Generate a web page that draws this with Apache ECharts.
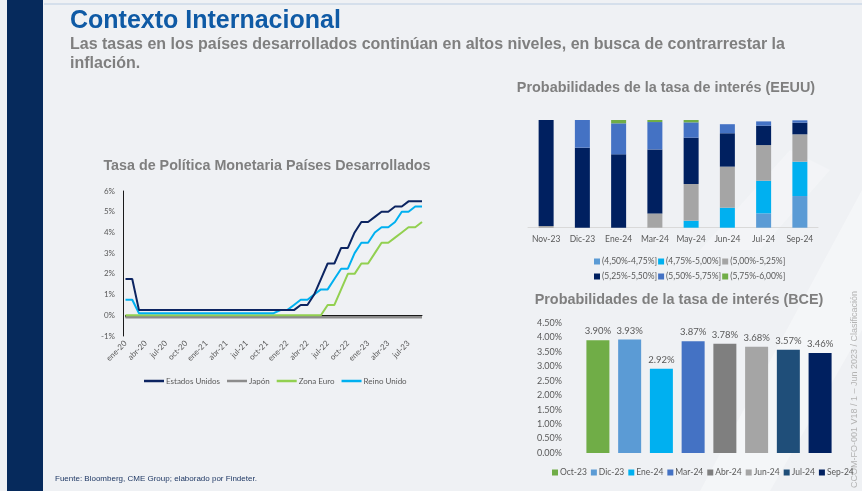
<!DOCTYPE html>
<html><head><meta charset="utf-8">
<script src="https://cdn.jsdelivr.net/npm/echarts@6/dist/echarts.min.js"></script>
<style>html,body{margin:0;padding:0;background:#eff1f4;}#c{width:862px;height:491px;}</style>
</head><body><div id="c"></div>
<script>
// ---------- Data ----------
var months = ['ene-20','feb-20','mar-20','abr-20','may-20','jun-20','jul-20','ago-20','sep-20','oct-20','nov-20','dic-20',
  'ene-21','feb-21','mar-21','abr-21','may-21','jun-21','jul-21','ago-21','sep-21','oct-21','nov-21','dic-21',
  'ene-22','feb-22','mar-22','abr-22','may-22','jun-22','jul-22','ago-22','sep-22','oct-22','nov-22','dic-22',
  'ene-23','feb-23','mar-23','abr-23','may-23','jun-23','jul-23','ago-23','sep-23'];
var estadosUnidos = [1.75,1.75,0.25,0.25,0.25,0.25,0.25,0.25,0.25,0.25,0.25,0.25,
  0.25,0.25,0.25,0.25,0.25,0.25,0.25,0.25,0.25,0.25,0.25,0.25,
  0.25,0.25,0.5,0.5,1.0,1.75,2.5,2.5,3.25,3.25,4.0,4.5,
  4.5,4.75,5.0,5.0,5.25,5.25,5.5,5.5,5.5];
var japon = [-0.1,-0.1,-0.1,-0.1,-0.1,-0.1,-0.1,-0.1,-0.1,-0.1,-0.1,-0.1,
  -0.1,-0.1,-0.1,-0.1,-0.1,-0.1,-0.1,-0.1,-0.1,-0.1,-0.1,-0.1,
  -0.1,-0.1,-0.1,-0.1,-0.1,-0.1,-0.1,-0.1,-0.1,-0.1,-0.1,-0.1,
  -0.1,-0.1,-0.1,-0.1,-0.1,-0.1,-0.1,-0.1,-0.1];
var zonaEuro = [0,0,0,0,0,0,0,0,0,0,0,0,
  0,0,0,0,0,0,0,0,0,0,0,0,
  0,0,0,0,0,0,0.5,0.5,1.25,2.0,2.0,2.5,
  2.5,3.0,3.5,3.5,3.75,4.0,4.25,4.25,4.5];
var reinoUnido = [0.75,0.75,0.1,0.1,0.1,0.1,0.1,0.1,0.1,0.1,0.1,0.1,
  0.1,0.1,0.1,0.1,0.1,0.1,0.1,0.1,0.1,0.1,0.1,0.25,
  0.25,0.5,0.75,0.75,1.0,1.25,1.25,1.75,2.25,2.25,3.0,3.5,
  3.5,4.0,4.25,4.25,4.5,5.0,5.0,5.25,5.25];

var fedCats = ['Nov-23','Dic-23','Ene-24','Mar-24','May-24','Jun-24','Jul-24','Sep-24'];
var fedBuckets = ['(4,50%-4,75%]','(4,75%-5,00%]','(5,00%-5,25%]','(5,25%-5,50%]','(5,50%-5,75%]','(5,75%-6,00%]'];
var p450_475 = [0,0,0,0,0,0,13.3,29.4];
var p475_500 = [0,0,0,0,6.5,18.6,30.3,31.9];
var p500_525 = [1.6,0,0,13.3,34.1,38.1,33.1,25.4];
var p525_550 = [98.4,74.3,68.1,59.4,43.0,31.0,18.0,10.8];
var p550_575 = [0,25.7,28.8,25.4,14.2,8.4,4.0,2.2];
var p575_600 = [0,0,3.1,1.9,2.2,0,0,0];

var bceMonths = ['Oct-23','Dic-23','Ene-24','Mar-24','Abr-24','Jun-24','Jul-24','Sep-24'];
var bceValues = [3.90,3.93,2.92,3.87,3.78,3.68,3.57,3.46];

// ---------- Styles ----------
var FONT = 'Lato, "Liberation Sans", sans-serif';
var TFONT = '"Liberation Sans", Arial, sans-serif';
var lineColors = ['#0c2461','#8c8c8c','#92d050','#00b0f0'];
var fedColors = ['#5b9bd5','#00b0f0','#a5a5a5','#002060','#4472c4','#70ad47'];
var bceColors = ['#70ad47','#5b9bd5','#00b0f0','#4472c4','#7f7f7f','#a5a5a5','#1f4e79','#002060'];

var chart = echarts.init(document.getElementById('c'), null, {renderer:'canvas'});

var series = [];
var lineNames = ['Estados Unidos','Japón','Zona Euro','Reino Unido'];
var lineData = [estadosUnidos, japon, zonaEuro, reinoUnido];
var lineZ = [5,2,3,4];
for (var i = 0; i < 4; i++) {
  series.push({type:'line', name: lineNames[i], xAxisIndex:0, yAxisIndex:0, data: lineData[i],
    showSymbol:false, symbol:'none', z: lineZ[i], lineStyle:{width: i===1?2.5:2, color: lineColors[i]},
    itemStyle:{color: lineColors[i]}, animation:false});
}
var fedData = [p450_475,p475_500,p500_525,p525_550,p550_575,p575_600];
for (var j = 0; j < 6; j++) {
  series.push({type:'bar', name: fedBuckets[j], stack:'fed', xAxisIndex:2, yAxisIndex:1, data: fedData[j],
    barWidth:15, itemStyle:{color: fedColors[j]}, animation:false});
}
for (var k = 0; k < 8; k++) {
  series.push({type:'bar', name: bceMonths[k], xAxisIndex:3, yAxisIndex:2, data:[bceValues[k]],
    barWidth:23, barGap:'38%', itemStyle:{color: bceColors[k]}, animation:false,
    label:{show:true, position:'top', distance:4, formatter: function(p){return p.value.toFixed(2)+'%';},
      fontFamily: FONT, fontSize:9.5, color:'#595959'}});
}

var option = {
  backgroundColor:'#eff1f4',
  animation:false,
  textStyle:{fontFamily: FONT},
  grid:[
    {left:125.5, top:191, width:296.5, height:145},
    {left:528, top:120, width:290, height:107.7},
    {left:575, top:323, width:268, height:130}
  ],
  xAxis:[
    {type:'category', gridIndex:0, data: months, boundaryGap:false, position:'bottom',
      axisLine:{show:false, onZero:false}, axisTick:{show:false},
      axisLabel:{interval:2, rotate:45, fontSize:8, color:'#595959', margin:6, fontFamily:FONT}},
    {type:'category', gridIndex:0, data: months, boundaryGap:false, position:'bottom',
      axisLine:{show:true, onZero:true, lineStyle:{color:'#1a1a1a', width:1}},
      axisTick:{show:true, interval:2, length:2, inside:false, lineStyle:{color:'#1a1a1a'}},
      axisLabel:{show:false}},
    {type:'category', gridIndex:1, data: fedCats,
      axisLine:{lineStyle:{color:'#d9d9d9'}}, axisTick:{show:false},
      axisLabel:{interval:0, fontSize:8.5, color:'#595959', margin:7, fontFamily:FONT}},
    {type:'category', gridIndex:2, data:[''], axisLine:{show:false}, axisTick:{show:false}, axisLabel:{show:false}}
  ],
  yAxis:[
    {type:'value', gridIndex:0, min:-1, max:6, interval:1, offset:2.5,
      axisLine:{show:true, lineStyle:{color:'#1a1a1a'}}, axisTick:{show:false}, splitLine:{show:false},
      axisLabel:{formatter:'{value}%', fontSize:8, color:'#595959', margin:8, fontFamily:FONT}},
    {type:'value', gridIndex:1, min:0, max:100, show:false, splitLine:{show:false}},
    {type:'value', gridIndex:2, min:0, max:4.5, interval:0.5,
      axisLine:{show:false}, axisTick:{show:false}, splitLine:{show:false},
      axisLabel:{formatter:function(v){return v.toFixed(2)+'%';}, fontSize:9, color:'#595959', margin:13, fontFamily:FONT}}
  ],
  legend:[
    {data: lineNames.map(function(n){return {name:n, icon:'rect'};}), left:139, top:372, itemWidth:20, itemHeight:2.5, itemGap:7,
      textStyle:{fontSize:8, color:'#595959', fontFamily:FONT, padding:[0,0,0,-3]}},
    {data: fedBuckets.slice(0,3), left:589, top:252, icon:'rect', itemWidth:6, itemHeight:6, itemGap:1,
      textStyle:{fontSize:8.5, color:'#595959', fontFamily:FONT, padding:[0,0,0,-3]}},
    {data: fedBuckets.slice(3,6), left:589, top:267, icon:'rect', itemWidth:6, itemHeight:6, itemGap:1,
      textStyle:{fontSize:8.5, color:'#595959', fontFamily:FONT, padding:[0,0,0,-3]}},
    {data: bceMonths, left:547, top:463, width:330, icon:'rect', itemWidth:6, itemHeight:6, itemGap:4,
      textStyle:{fontSize:8.5, color:'#595959', fontFamily:FONT, padding:[0,0,0,-3]}}
  ],
  graphic:[
    {type:'polygon', silent:true, z:-10, shape:{points:[[700,491],[770,491],[862,330],[862,190]]}, style:{fill:'rgba(255,255,255,0.35)'}},
    {type:'polygon', silent:true, z:-10, shape:{points:[[700,250],[760,250],[830,170],[790,150]]}, style:{fill:'rgba(255,255,255,0.25)'}},
    {type:'rect', silent:true, shape:{x:7, y:0, width:36, height:491}, style:{fill:'#062a5c'}},
    {type:'line', silent:true, shape:{x1:44, y1:4, x2:862, y2:4}, style:{stroke:'#cdd9e8', lineWidth:1.5}},
    {type:'text', silent:true, x:70, y:21, style:{text:'Contexto Internacional', font:'bold 25px '+TFONT, fill:'#0f5aa5', textVerticalAlign:'middle'}},
    {type:'text', silent:true, x:70, y:45, style:{text:'Las tasas en los países desarrollados continúan en altos niveles, en busca de contrarrestar la', font:'bold 16px '+TFONT, fill:'#7f7f7f', textVerticalAlign:'middle'}},
    {type:'text', silent:true, x:70, y:64, style:{text:'inflación.', font:'bold 16px '+TFONT, fill:'#7f7f7f', textVerticalAlign:'middle'}},
    {type:'text', silent:true, x:267, y:166, style:{text:'Tasa de Política Monetaria Países Desarrollados', font:'bold 14.3px '+TFONT, fill:'#7f7f7f', textAlign:'center', textVerticalAlign:'middle'}},
    {type:'text', silent:true, x:666, y:88, style:{text:'Probabilidades de la tasa de interés (EEUU)', font:'bold 14.4px '+TFONT, fill:'#7f7f7f', textAlign:'center', textVerticalAlign:'middle'}},
    {type:'text', silent:true, x:679, y:300, style:{text:'Probabilidades de la tasa de interés (BCE)', font:'bold 14.4px '+TFONT, fill:'#7f7f7f', textAlign:'center', textVerticalAlign:'middle'}},
    {type:'text', silent:true, x:55, y:479, style:{text:'Fuente: Bloomberg, CME Group; elaborado por Findeter.', font:'8px '+TFONT, fill:'#1f3864', textVerticalAlign:'middle'}},
    {type:'text', silent:true, x:855, y:488, rotation:Math.PI/2, style:{text:'CCOM-FO-001 V18 / 1 – Jun 2023 / Clasificación', font:'9px '+TFONT, fill:'#b3b3b3', textVerticalAlign:'middle'}}
  ],
  series: series
};
chart.setOption(option);
</script>
</body></html>
